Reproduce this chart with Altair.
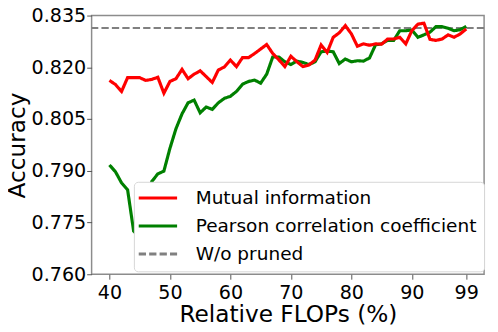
import altair as alt
import pandas as pd

flops = list(range(40, 100))
mutual_info = [
    0.8162, 0.8150, 0.8130, 0.8170, 0.8170, 0.8170, 0.8162, 0.8165, 0.8171, 0.8125,
    0.8159, 0.8167, 0.8194, 0.8167, 0.8180, 0.8190, 0.8173, 0.8156, 0.8192, 0.8201,
    0.8221, 0.8202, 0.8228, 0.8228, 0.8240, 0.8253, 0.8266, 0.8240, 0.8222, 0.8202,
    0.8232, 0.8216, 0.8202, 0.8207, 0.8221, 0.8265, 0.8243, 0.8287, 0.8300, 0.8321,
    0.8297, 0.8261, 0.8268, 0.8264, 0.8268, 0.8267, 0.8282, 0.8282, 0.8287, 0.8268,
    0.8306, 0.8325, 0.8328, 0.8281, 0.8278, 0.8282, 0.8294, 0.8287, 0.8297, 0.8311,
]
pearson = [
    0.7917, 0.7897, 0.7865, 0.7845, 0.7725, 0.7710, 0.7760, 0.7869, 0.7891, 0.7899,
    0.7965, 0.8022, 0.8065, 0.8097, 0.8105, 0.8068, 0.8085, 0.8078, 0.8097, 0.8110,
    0.8116, 0.8130, 0.8151, 0.8159, 0.8163, 0.8154, 0.8180, 0.8230, 0.8230, 0.8216,
    0.8208, 0.8218, 0.8214, 0.8208, 0.8216, 0.8245, 0.8247, 0.8245, 0.8211, 0.8224,
    0.8216, 0.8219, 0.8218, 0.8227, 0.8265, 0.8268, 0.8278, 0.8278, 0.8306, 0.8306,
    0.8308, 0.8287, 0.8294, 0.8302, 0.8318, 0.8318, 0.8313, 0.8306, 0.8309, 0.8319,
]
baseline = 0.8314

series_names = ["Mutual information", "Pearson correlation coefficient", "W/o pruned"]
series_colors = ["#ff0000", "#008000", "#808080"]
series_dashes = [[1, 0], [1, 0], [7.4, 3.2]]
x_ticks = [40, 50, 60, 70, 80, 90, 99]
y_ticks = [0.760, 0.775, 0.790, 0.805, 0.820, 0.835]
x_domain = [37.05, 101.95]
y_domain = [0.760, 0.835]

df_mi = pd.DataFrame({"flops": flops, "acc": mutual_info, "series": series_names[0]})
df_pc = pd.DataFrame({"flops": flops, "acc": pearson, "series": series_names[1]})
df_base = pd.DataFrame({"acc": [baseline], "series": [series_names[2]]})

FONT = "DejaVu Sans"

legend = alt.Legend(
    title=None,
    orient="none",
    legendX=43,
    legendY=169,
    symbolType="M-2.6,0H2.6",
    symbolSize=225,
    symbolStrokeWidth=3,
    labelFontSize=18.8,
    labelFont=FONT,
    labelColor="black",
    labelLimit=0,
    labelOffset=29,
    symbolOffset=8,
    rowPadding=8.5,
    padding=7,
    fillColor="white",
    strokeColor="#d6d6d6",
    cornerRadius=4,
    zindex=2,
)

color = alt.Color(
    "series:N",
    scale=alt.Scale(domain=series_names, range=series_colors),
    legend=legend,
)
dash = alt.StrokeDash(
    "series:N",
    scale=alt.Scale(domain=series_names, range=series_dashes),
    legend=legend,
)

x_enc = alt.X(
    "flops:Q",
    scale=alt.Scale(domain=x_domain, nice=False, zero=False),
    axis=alt.Axis(values=x_ticks, title="Relative FLOPs (%)", titlePadding=1),
)
y_enc = alt.Y(
    "acc:Q",
    scale=alt.Scale(domain=y_domain, nice=False, zero=False),
    axis=alt.Axis(values=y_ticks, format=".3f", title="Accuracy", titlePadding=2),
)

base_rule = alt.Chart(df_base).mark_rule(strokeWidth=2).encode(
    y=alt.Y("acc:Q", scale=alt.Scale(domain=y_domain, nice=False, zero=False)),
    color=color,
    strokeDash=dash,
)
line_pc = alt.Chart(df_pc).mark_line(strokeWidth=3.2).encode(
    x=x_enc, y=y_enc, color=color, strokeDash=dash
)
line_mi = alt.Chart(df_mi).mark_line(strokeWidth=3.2).encode(
    x=x_enc, y=y_enc, color=color, strokeDash=dash
)

chart = (
    alt.layer(base_rule, line_pc, line_mi)
    .properties(
        width=399,
        height=263,
        padding={"left": 85, "top": 5, "right": 6, "bottom": 56},
        autosize=alt.AutoSizeParams(type="none"),
    )
    .configure_view(stroke="#8c8c8c", strokeWidth=1.5)
    .configure_axis(
        domain=False,
        grid=False,
        tickSize=5,
        tickColor="#555555",
        labelFont=FONT,
        labelFontSize=19.4,
        labelColor="black",
        titleFont=FONT,
        titleFontSize=23.6,
        titleFontWeight="normal",
        titleColor="black",
    )
    .configure_axisX(labelPadding=4.5)
    .configure_axisY(labelPadding=1)
)

chart.save("out.html", embed_options={"renderer": "svg", "actions": False})
